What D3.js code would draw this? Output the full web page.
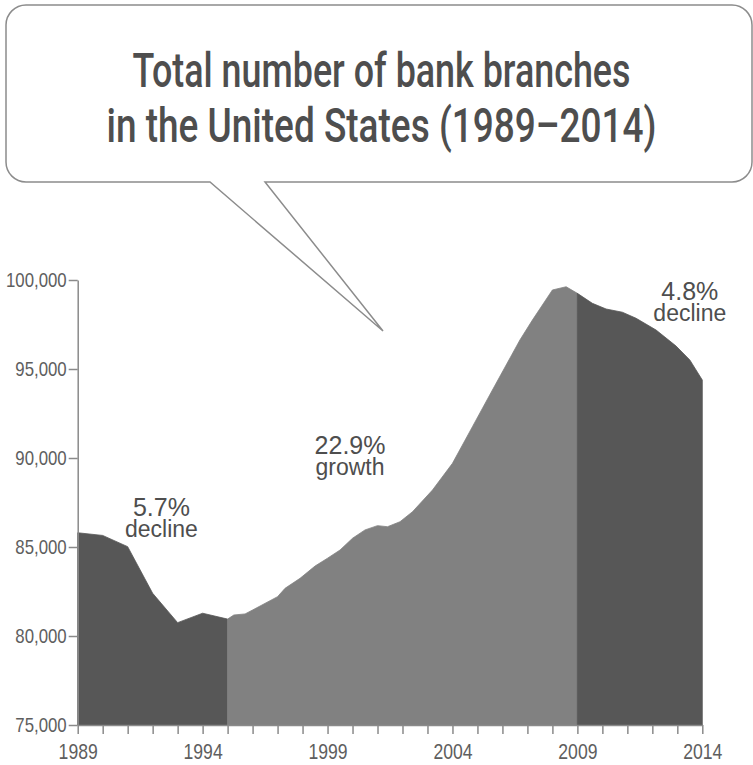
<!DOCTYPE html>
<html>
<head>
<meta charset="utf-8">
<script src="https://cdn.jsdelivr.net/npm/d3@7"></script>
<style>
  html, body { margin: 0; padding: 0; background: #fff; }
  svg { display: block; }
  .axis path, .axis line { stroke: #8a8a8a; stroke-width: 1.5; }
  .axis text { font-family: "Liberation Sans", Arial, sans-serif; fill: #5e5e5e; }
</style>
</head>
<body>
<div id="chart"></div>
<script>
// === DATA ===
const years = [1989, 1990, 1991, 1992, 1993, 1994, 1995, 1995.25, 1995.7, 1996,
    1997, 1997.3, 1997.9, 1998.5, 1999, 1999.5, 2000, 2000.5, 2001, 2001.4,
    2001.9, 2002.4, 2003.2, 2004, 2004.8, 2005.6, 2006.7, 2007.2, 2008, 2008.55,
    2009, 2009.6, 2010.15, 2010.8, 2011.35, 2012.15, 2012.95, 2013.5, 2014]
const branches = [85800, 85650, 85020, 82400, 80750, 81280, 80950, 81180, 81240, 81460,
    82210, 82680, 83240, 83930, 84370, 84830, 85490, 85960, 86200, 86140,
    86420, 86980, 88200, 89700, 91760, 93820, 96630, 97750, 99440, 99620,
    99250, 98690, 98370, 98190, 97850, 97190, 96290, 95510, 94380]

const periodStarts = [1989, 1995, 2009]
const periodEnds = [1995, 2009, 2014]
const periodPct = ['5.7%', '22.9%', '4.8%']
const periodWord = ['decline', 'growth', 'decline']

const yTicks = [75000, 80000, 85000, 90000, 95000, 100000]
const xLabelYears = [1989, 1994, 1999, 2004, 2009, 2014]
const titleLines = ['Total number of bank branches', 'in the United States (1989\u20132014)']

// === LAYOUT / STYLE ===
const W = 753, H = 765
const periodFills = ['#575757', '#818181', '#575757']
const textColor = '#4e4e4e'
const NARROW = 0.8   // squeeze factor to fake a condensed face
// annotation anchors, in data units
const noteAt = [[1992.35, 86750], [1999.9, 90200], [2013.5, 98900]]

const svg = d3.select('#chart').append('svg')
    .attr('width', W).attr('height', H)

const x = d3.scaleLinear().domain([1989, 2014]).range([77.7, 702.3])
const y = d3.scaleLinear().domain([75000, 100000]).range([725, 280])

// squeeze a text horizontally, keeping its anchor
const squeeze = (sel, k) => sel.each(function () {
    const len = this.getComputedTextLength()
    d3.select(this)
        .attr('textLength', len * k)
        .attr('lengthAdjust', 'spacingAndGlyphs')
})

// === SPEECH BUBBLE ===
const bx0 = 6, bx1 = 752, by0 = 5, by1 = 182, r = 20
const bubble = d3.path()
bubble.moveTo(bx0 + r, by0)
bubble.lineTo(bx1 - r, by0)
bubble.arcTo(bx1, by0, bx1, by0 + r, r)
bubble.lineTo(bx1, by1 - r)
bubble.arcTo(bx1, by1, bx1 - r, by1, r)
bubble.lineTo(265, by1)
bubble.lineTo(383, 331)
bubble.lineTo(210, by1)
bubble.lineTo(bx0 + r, by1)
bubble.arcTo(bx0, by1, bx0, by1 - r, r)
bubble.lineTo(bx0, by0 + r)
bubble.arcTo(bx0, by0, bx0 + r, by0, r)
bubble.closePath()

svg.append('path')
    .attr('d', bubble.toString())
    .attr('fill', '#fff')
    .attr('stroke', '#8c8c8c')
    .attr('stroke-width', 1.5)

const titleWidths = [498, 550]
svg.selectAll('text.title')
    .data(titleLines)
    .join('text')
    .attr('class', 'title')
    .attr('x', 381.5)
    .attr('y', (d, i) => 87 + i * 55)
    .attr('text-anchor', 'middle')
    .attr('textLength', (d, i) => titleWidths[i])
    .attr('lengthAdjust', 'spacingAndGlyphs')
    .style('font-family', 'Roboto, "Liberation Sans", sans-serif')
    .style('font-weight', 500)
    .style('font-size', '48px')
    .style('fill', textColor)
    .text(d => d)

// === AREAS ===
const points = years.map((yr, i) => ({ year: yr, value: branches[i] }))

const area = d3.area()
    .x(d => x(d.year))
    .y0(y(75000))
    .y1(d => y(d.value))
    .curve(d3.curveLinear)

periodStarts.forEach((start, i) => {
    const seg = points.filter(p => p.year >= start && p.year <= periodEnds[i])
    svg.append('path')
        .datum(seg)
        .attr('d', area)
        .attr('fill', periodFills[i])
        .attr('stroke', periodFills[i])
        .attr('stroke-width', 0.8)
        .attr('stroke-linejoin', 'round')
})

// === AXES ===
const yAxis = d3.axisLeft(y)
    .tickValues(yTicks)
    .tickFormat(d3.format(','))
    .tickSize(9)
    .tickPadding(2)
    .tickSizeOuter(0)

svg.append('g')
    .attr('class', 'axis')
    .attr('transform', `translate(${x(1989)},0)`)
    .call(yAxis)
    .call(g => g.selectAll('text').style('font-size', '21px').call(squeeze, NARROW))

const xAxis = d3.axisBottom(x)
    .tickValues(d3.range(1989, 2015))
    .tickFormat(d => xLabelYears.includes(d) ? String(d) : '')
    .tickSize(9)
    .tickPadding(9)
    .tickSizeOuter(0)

svg.append('g')
    .attr('class', 'axis')
    .attr('transform', `translate(0,${y(75000)})`)
    .call(xAxis)
    .call(g => g.selectAll('text').filter(d => xLabelYears.includes(d))
        .style('font-size', '22px').call(squeeze, NARROW))

// === ANNOTATIONS ===
periodPct.forEach((pct, i) => {
    const [ax, av] = noteAt[i]
    svg.append('text')
        .attr('x', x(ax)).attr('y', y(av))
        .attr('text-anchor', 'middle')
        .style('font-family', '"Liberation Sans", Arial, sans-serif')
        .style('font-size', '25px')
        .style('fill', textColor)
        .text(pct)
    svg.append('text')
        .attr('x', x(ax)).attr('y', y(av) + 21)
        .attr('text-anchor', 'middle')
        .style('font-family', '"Liberation Sans", Arial, sans-serif')
        .style('font-size', '23px')
        .style('fill', textColor)
        .text(periodWord[i])
})
</script>
</body>
</html>
